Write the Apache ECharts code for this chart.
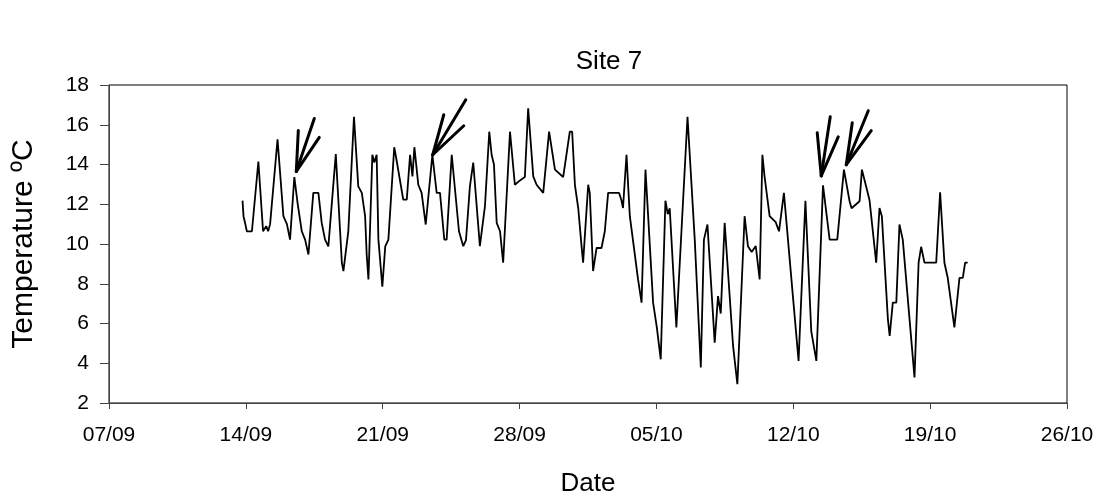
<!DOCTYPE html>
<html>
<head>
<meta charset="utf-8">
<script src="https://cdn.jsdelivr.net/npm/echarts@6/dist/echarts.min.js"></script>
<style>
    html, body { margin: 0; padding: 0; background: #fff; }
    #main { width: 1101px; height: 502px; }
</style>
</head>
<body>
<div id="main"></div>
<script>
// x values are days counted from 07/09
var tickLabels = ['07/09', '14/09', '21/09', '28/09', '05/10', '12/10', '19/10', '26/10'];
var days = [
    6.83, 6.88, 6.96, 7.05, 7.31, 7.64, 7.88, 8.04, 8.14, 8.24, 8.62, 8.92, 9.10, 9.26, 9.48, 9.64,
    9.86, 10.03, 10.20, 10.45, 10.71, 10.88, 11.05, 11.22, 11.60, 11.91, 11.99, 12.24, 12.53, 12.75, 12.93,
    13.10, 13.18, 13.27, 13.47, 13.57, 13.69, 13.78, 13.98, 14.13, 14.29, 14.59, 14.72, 15.05, 15.23,
    15.40, 15.52, 15.62, 15.82, 15.99, 16.20, 16.54, 16.76, 16.93, 17.15, 17.27, 17.53, 17.90, 18.12,
    18.26, 18.46, 18.63, 18.97, 19.23, 19.45, 19.57, 19.69, 19.83, 20.00, 20.16, 20.51, 20.76, 21.02,
    21.27, 21.44, 21.70, 21.87, 22.21, 22.51, 22.81, 23.23, 23.57, 23.69, 23.83, 24.00, 24.17, 24.25,
    24.51, 24.59, 24.76, 24.94, 25.19, 25.36, 25.53, 26.09, 26.21, 26.29, 26.47, 26.55, 26.64, 27.06,
    27.24, 27.44, 27.83, 28.02, 28.22, 28.46, 28.58, 28.68, 29.02, 29.59, 29.96, 30.27, 30.43, 30.61,
    30.98, 31.15, 31.29, 31.49, 31.92, 32.14, 32.51, 32.68, 32.87, 33.08, 33.28, 33.42, 33.53, 33.79,
    34.10, 34.27, 34.52, 34.98, 35.27, 35.62, 35.92, 36.18, 36.52, 36.86, 37.25, 37.59, 37.88, 37.98,
    38.39, 38.51, 38.81, 38.90, 39.24, 39.32, 39.41, 39.53, 39.84, 39.93, 40.09, 40.27, 40.43, 40.60,
    41.20, 41.41, 41.54, 41.71, 42.31, 42.51, 42.73, 42.90, 43.24, 43.50, 43.67, 43.79, 43.92
];
var temps = [
    12.18, 11.4, 11.06, 10.64, 10.64, 14.15, 10.64, 10.9, 10.64, 11.0, 15.27, 11.4, 11.0, 10.22, 13.37, 12.1,
    10.64, 10.22, 9.47, 12.57, 12.57, 11.06, 10.22, 9.88, 14.52, 9.06, 8.64, 10.64, 16.4, 12.9, 12.57,
    11.4, 9.47, 8.22, 14.49, 14.1, 14.49, 10.22, 7.85, 9.88, 10.22, 14.87, 14.15, 12.23, 12.23,
    14.49, 13.4, 14.87, 12.98, 12.57, 10.98, 14.49, 12.57, 12.57, 10.22, 10.22, 14.49, 10.64, 9.89,
    10.2, 12.9, 14.1, 9.89, 11.9, 15.65, 14.49, 14.0, 11.06, 10.64, 9.06, 15.65, 12.98, 13.2,
    13.37, 16.83, 13.4, 12.98, 12.57, 15.65, 13.74, 13.37, 15.65, 15.65, 12.98, 11.81, 9.89, 9.06,
    12.98, 12.57, 8.64, 9.8, 9.8, 10.64, 12.57, 12.57, 12.2, 11.81, 14.49, 13.0, 11.4, 8.22,
    7.05, 13.74, 7.05, 5.8, 4.2, 12.18, 11.5, 11.8, 5.8, 16.4, 10.22, 3.79, 10.22, 10.98,
    5.04, 7.38, 6.5, 11.06, 4.87, 2.95, 11.4, 9.89, 9.6, 9.9, 8.22, 14.49, 13.4, 11.4,
    11.1, 10.64, 12.57, 7.38, 4.12, 12.18, 5.6, 4.12, 12.95, 10.22, 10.22, 13.74, 12.15, 11.8,
    12.15, 13.74, 12.57, 12.2, 9.06, 9.06, 11.81, 11.4, 6.21, 5.38, 7.05, 7.05, 10.98, 10.22,
    3.29, 9.06, 9.86, 9.06, 9.06, 12.6, 9.06, 8.3, 5.8, 8.3, 8.3, 9.06, 9.06
];
// arrow tips (day, temperature)
var arrowDays = [9.58, 16.56, 36.43, 37.71];
var arrowTemps = [13.65, 14.49, 13.43, 13.99];

var chart = echarts.init(document.getElementById('main'));
var fontName = 'Liberation Sans';
var seriesData = [];
for (var i = 0; i < days.length; i++) {
    seriesData.push([days[i], temps[i]]);
}

var option = {
    animation: false,
    title: {
        text: 'Site 7',
        left: 604,
        top: 44,
        textAlign: 'center',
        textStyle: { fontFamily: fontName, fontSize: 26, fontWeight: 'normal', color: '#000' }
    },
    grid: {
        left: 109, right: 34, top: 85, bottom: 98,
        show: true, borderColor: '#000', borderWidth: 1
    },
    xAxis: {
        type: 'value',
        min: 0, max: 49, interval: 7,
        name: 'Date',
        nameLocation: 'middle',
        nameGap: 68,
        nameTextStyle: { fontFamily: fontName, fontSize: 26, color: '#000' },
        axisLine: { lineStyle: { color: '#444', width: 1 } },
        axisTick: { show: true, length: 6, inside: false, lineStyle: { color: '#444' } },
        axisLabel: {
            fontFamily: fontName, fontSize: 21, color: '#000', margin: 22,
            formatter: function(v) { return tickLabels[Math.round(v / 7)]; }
        },
        splitLine: { show: false }
    },
    yAxis: {
        type: 'value',
        min: 2, max: 18, interval: 2,
        name: 'Temperature \u00baC',
        nameLocation: 'middle',
        nameGap: 70,
        nameTextStyle: { fontFamily: fontName, fontSize: 30, color: '#000' },
        axisLine: { show: true, lineStyle: { color: '#444', width: 1 } },
        axisTick: { show: true, length: 9, inside: false, lineStyle: { color: '#444' } },
        axisLabel: { fontFamily: fontName, fontSize: 21, color: '#000', margin: 20 },
        splitLine: { show: false }
    },
    series: [{
        type: 'line',
        data: seriesData,
        showSymbol: false,
        lineStyle: { color: '#000', width: 1.8 }
    }]
};
chart.setOption(option);

// 箭头: three strokes from each tip, offsets in px
var strokes = [
    [[2, -41], [18, -53], [23, -34]],
    [[11, -40], [33, -55], [31, -29]],
    [[-4, -43], [9, -59], [17, -39]],
    [[6, -42], [22, -54], [25, -34]]
];
var graphics = [];
for (var a = 0; a < arrowDays.length; a++) {
    var tip = chart.convertToPixel({ gridIndex: 0 }, [arrowDays[a], arrowTemps[a]]);
    for (var s = 0; s < 3; s++) {
        graphics.push({
            type: 'line',
            shape: { x1: tip[0], y1: tip[1], x2: tip[0] + strokes[a][s][0], y2: tip[1] + strokes[a][s][1] },
            style: { stroke: '#000', lineWidth: 3, lineCap: 'round' }
        });
    }
}
chart.setOption({ graphic: graphics });
</script>
</body>
</html>
